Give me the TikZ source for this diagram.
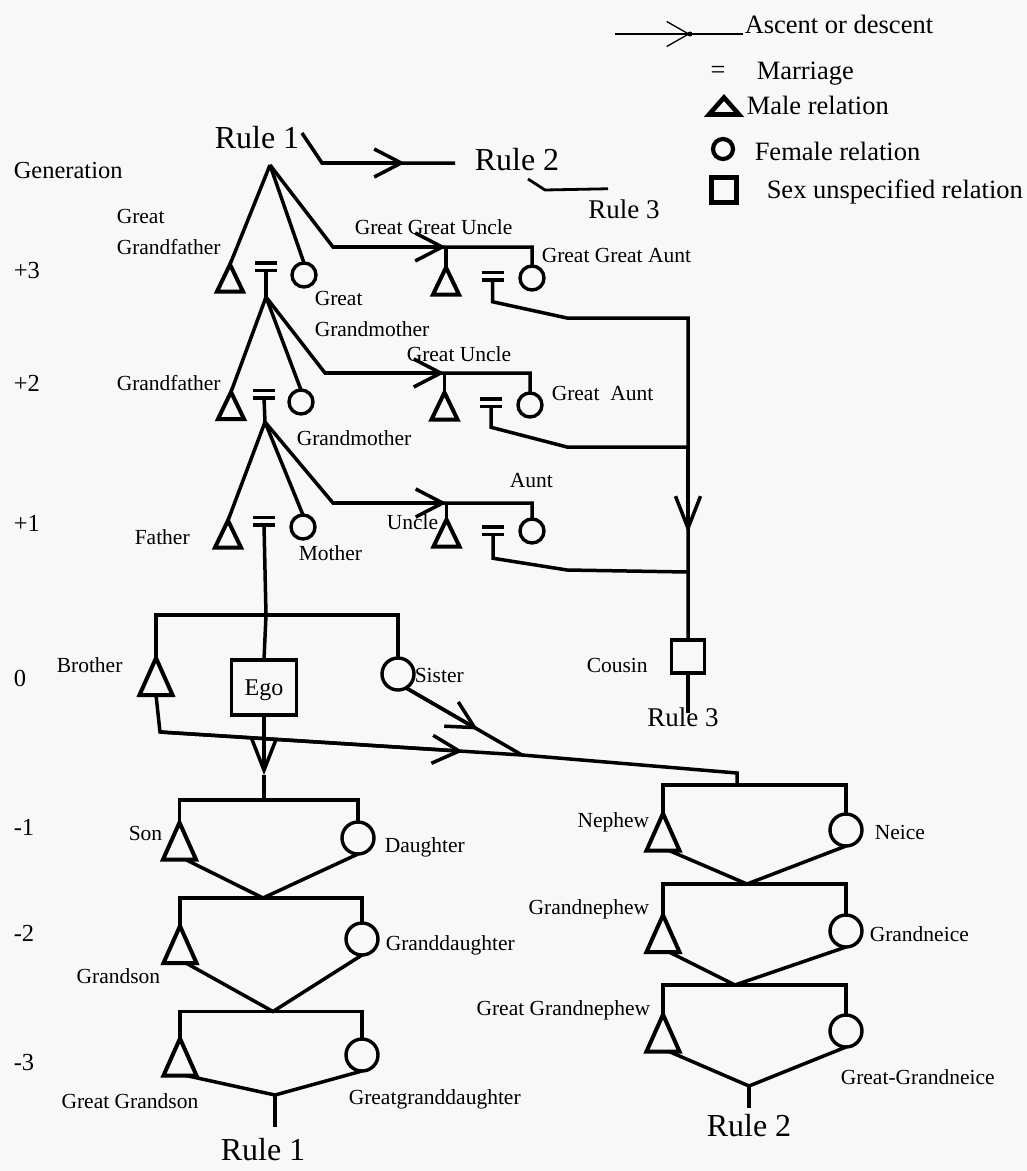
\documentclass[tikz,border=0pt]{standalone}
\usepackage{fontspec}
\setmainfont{Liberation Serif}
\usetikzlibrary{arrows.meta,calc}
\definecolor{paper}{RGB}{248,248,248}
\tikzset{
  kin/.style={line width=3.5pt, line join=miter},
  chev/.style={-{Straight Barb[length=27pt,width=28pt]}},
  vchev/.style={-{Straight Barb[length=32pt,width=25pt]}},
  male/.style={inner sep=0pt, outer sep=0pt, minimum width=26pt, minimum height=27pt},
  maleb/.style={inner sep=0pt, outer sep=0pt, minimum width=33pt, minimum height=37pt},
  fem/.style={circle, draw, line width=3.4pt, inner sep=0pt, outer sep=0pt, minimum size=24pt},
  femb/.style={circle, draw, line width=3.4pt, inner sep=0pt, outer sep=0pt, minimum size=32pt},
  marr/.style={inner sep=0pt, outer sep=0pt, minimum width=22pt, minimum height=7.5pt},
  unsex/.style={draw, line width=3.4pt, inner sep=0pt, outer sep=0pt, minimum size=33pt},
  trioutline/.style={line width=4pt, line join=miter},
  lbl/.style={inner sep=0pt, anchor=west, font=\fontsize{21.5pt}{31pt}\selectfont, text height=14.6pt, text depth=0.4pt},
  lbltwo/.style={inner sep=0pt, anchor=north west, align=left, font=\fontsize{21.5pt}{31pt}\selectfont},
  gen/.style={inner sep=0pt, anchor=west, font=\fontsize{24.5pt}{29pt}\selectfont, text height=16.7pt, text depth=0.5pt},
  leg/.style={inner sep=0pt, anchor=west, font=\fontsize{26.5pt}{32pt}\selectfont, text height=18pt, text depth=0.5pt},
  rulebig/.style={inner sep=0pt, font=\fontsize{32pt}{38pt}\selectfont, text height=21.8pt, text depth=0.6pt},
  rulesm/.style={inner sep=0pt, font=\fontsize{27pt}{32pt}\selectfont, text height=18.4pt, text depth=0.6pt},
  egobox/.style={draw, line width=3.4pt, inner sep=0pt, outer sep=0pt, minimum width=65pt, minimum height=55pt,
                 font=\fontsize{24pt}{28pt}\selectfont, text height=16.3pt, text depth=0.5pt},
}
\begin{document}
\begin{tikzpicture}[x=1pt, y=-1pt, kin]
\fill[paper] (0,0) rectangle (1027,1171);
\useasboundingbox (0,0) rectangle (1027,1171);

% ---------------- legend ----------------
\coordinate (L0) at (615,34);
\coordinate (LT) at (690,34);
\node[leg] (lgA) at (743,25) {Ascent or descent};
\draw[line width=1.3pt] (L0) -- (L0 -| lgA.west);
\draw[line width=1.3pt, -{Straight Barb[length=22pt,width=25pt]}] (L0) -- (LT);
\fill (LT) circle (2.5pt);
\node[leg, anchor=center] (lgEq) at (718,70) {=};
\node[leg] (lgM) at (755,71) {Marriage};
\node[inner sep=0pt, outer sep=0pt, minimum width=30pt, minimum height=17pt] (lgTri) at (724,106) {};
\draw[line width=4.6pt, line join=miter] (lgTri.south west) -- (lgTri.north) -- (lgTri.south east) -- cycle;
\node[leg] (lgMale) at (745,106) {Male relation};
\node[circle, draw, line width=4.2pt, inner sep=0pt, minimum size=20pt] (lgCirc) at (723,149) {};
\node[leg] (lgFem) at (753,152) {Female relation};
\node[draw, line width=4.2pt, inner sep=0pt, minimum size=25pt] (lgSq) at (724,190) {};
\node[leg] (lgSex) at (765,190) {Sex unspecified relation};

% ---------------- generation column ----------------
\node[gen] (genT) at (12,170) {Generation};
\node[gen] (g3) at (12,270) {+3};
\node[gen] (g2) at (12,383) {+2};
\node[gen] (g1) at (12,523) {+1};
\node[gen] (g0) at (12,678) {0};
\node[gen] (gm1) at (12,827) {-1};
\node[gen] (gm2) at (12,933) {-2};
\node[gen] (gm3) at (12,1062) {-3};

% ---------------- rules at the top ----------------
\node[rulebig] (r1t) at (257,138) {Rule 1};
\node[rulebig] (r2t) at (517,160) {Rule 2};
\node[rulesm]  (r3t) at (624,210) {Rule 3};
\coordinate (Q1) at (322,163);
\coordinate (TQ) at (405,163);
\coordinate (Q2) at ($(r2t.west)+(-18,3)$);
\draw ($(r1t.east)+(1,-5)$) -- (Q1) -- (Q2);
\draw[chev] (Q1) -- (TQ);
\coordinate (Q3) at (545,190);
\draw[line width=2.8pt] ($(r2t.south)+(11,6)$) -- (Q3) -- ($(r3t.north)+(-16,-10)$);

% ---------------- generation +3 ----------------
\node[male] (ggf) at (230,278) {};
\node[marr] (m3)  at (266,266.5) {};
\node[fem]  (ggm) at (304,275) {};
\node[male] (ggu) at (446,281) {};
\node[marr] (mu3) at (492.5,276) {};
\node[fem]  (gga) at (532,278) {};
\coordinate (A3) at (270,165);
\coordinate (K3) at (333,247);
\draw (A3) -- (ggf.north);
\draw (A3) -- (ggm.north);
\draw (A3) -- (K3) -- (K3 -| gga.north) -- (gga.north);
\draw[chev] (K3) -- (K3 -| ggu.north);
\draw (K3 -| ggu.north) -- (ggu.north);
\node[lbltwo] (ggfL) at (115,207.5) {Great\\Grandfather};
\node[lbltwo] (ggmL) at (313,289.5) {Great\\Grandmother};
\node[lbl] (gguL) at (353,227) {Great Great Uncle};
\node[lbl] (ggaL) at (540,255) {Great Great Aunt};

% ---------------- generation +2 ----------------
\node[male] (gf)  at (231,405.5) {};
\node[marr] (m2)  at (264,394) {};
\node[fem]  (gm)  at (301,402) {};
\node[male] (gu)  at (444.5,406) {};
\node[marr] (mu2) at (491,402.5) {};
\node[fem]  (ga)  at (530,405) {};
\coordinate (A2) at (266,297);
\coordinate (K2) at (325,373);
\draw (m3.south) -- (A2);
\draw (A2) -- (gf.north);
\draw (A2) -- (gm.north);
\draw (A2) -- (K2) -- (K2 -| ga.north) -- (ga.north);
\draw[chev] (K2) -- (K2 -| gu.north);
\draw (K2 -| gu.north) -- (gu.north);
\node[lbl] (gfL) at (115,383) {Grandfather};
\node[lbl] (gmL) at (295,438) {Grandmother};
\node[lbl] (guL) at (405,354) {Great Uncle};
\node[lbl] (gaL) at (550,393) {Great\ \ Aunt};

% ---------------- generation +1 ----------------
\node[male] (fa)  at (228,534) {};
\node[marr] (m1)  at (264,521) {};
\node[fem]  (mo)  at (303,527) {};
\node[male] (un)  at (446.5,533) {};
\node[marr] (mu1) at (493,530.5) {};
\node[fem]  (au)  at (532,531) {};
\coordinate (A1) at (265,422);
\coordinate (K1) at (333,503);
\draw (m2.south) -- (A1);
\draw (A1) -- (fa.north);
\draw (A1) -- (mo.north);
\draw (A1) -- (K1) -- (K1 -| au.north) -- (au.north);
\draw[chev] (K1) -- (K1 -| un.north);
\draw (K1 -| un.north) -- (un.north);
\node[lbl] (faL) at (133,537) {Father};
\node[lbl] (moL) at (297,553) {Mother};
\node[lbl] (unL) at (385,522) {Uncle};
\node[lbl] (auL) at (508,480) {Aunt};

% ---------------- cousin line ----------------
\node[unsex] (cou) at (688,656.5) {};
\node[lbl] (couL) at (585,665) {Cousin};
\node[rulesm] (r3c) at (683,718) {Rule 3};
\coordinate (G3) at (688,318);
\coordinate (G2) at (688,447);
\coordinate (G1) at (688,572);
\coordinate (TC) at (688,533);
\coordinate (E3) at (688,713);
\draw (mu3.south) -- ++(0,22) -- (567,318) -- (G3) -- (cou.north);
\draw (mu2.south) -- ++(0,21) -- (567,447) -- (G2);
\draw (mu1.south) -- ++(0,24) -- (567,570) -- (G1);
\draw[vchev] (G2) -- (TC);
\draw (cou.south) -- (E3);

% ---------------- generation 0 ----------------
\coordinate (S0) at (266,615);
\node[maleb]  (bro) at (156,676.5) {};
\node[egobox] (ego) at (264,687.5) {Ego};
\node[femb]   (sis) at (398,674) {};
\draw (m1.south) -- (S0);
\draw (bro.north) -- (bro.north |- S0) -- (sis.north |- S0) -- (sis.north);
\draw (S0) -- (ego.north);
\node[lbl] (broL) at (55,665) {Brother};
\node[lbl] (sisL) at (413,675) {Sister};

% brother and sister lines down to the nephews
\coordinate (B1) at (160,732);
\coordinate (J)  at (522,755);
\coordinate (N0) at (737,773);
\coordinate (N1) at (737,785);
\coordinate (TB) at ($(B1)!0.837!(J)$);
\coordinate (TS) at ($(sis.-60)!0.62!(J)$);
\draw (bro.south) -- (B1) -- (J) -- (N0) -- (N1);
\draw (sis.-60) -- (J);
\draw[chev] (B1) -- (TB);
\draw[chev] (sis.-60) -- (TS);

% ---------------- ego's descendants ----------------
\coordinate (TE) at (264,775);
\coordinate (D1) at (264,800);
\draw[vchev] (ego.south) -- (TE);
\draw (TE) -- (D1);
\node[maleb] (son)   at (179.5,841) {};
\node[femb]  (dau)   at (358,838) {};
\node[maleb] (gson)  at (180,944.5) {};
\node[femb]  (gdau)  at (362,939) {};
\node[maleb] (ggson) at (180,1057) {};
\node[femb]  (ggd)   at (362,1055) {};
\coordinate (M1) at (263,898);
\coordinate (M2) at (273,1011.5);
\coordinate (M3) at (275,1095);
\coordinate (E1) at (275,1127);
\draw (son.north) -- (son.north |- D1) -- (dau.north |- D1) -- (dau.north);
\draw ($(son.south)+(6,0)$) -- (M1) -- (dau.south);
\draw (gson.north) -- (gson.north |- M1) -- (gdau.north |- M1) -- (gdau.north);
\draw ($(gson.south)+(6,0)$) -- (M2) -- (gdau.south);
\draw (ggson.north) -- (ggson.north |- M2) -- (ggd.north |- M2) -- (ggd.north);
\draw ($(ggson.south)+(6,0)$) -- (M3) -- (ggd.south);
\draw (M3) -- (E1);
\node[rulebig] (r1b) at (263,1150) {Rule 1};
\node[lbl] (sonL) at (127,833) {Son};
\node[lbl] (dauL) at (383,845) {Daughter};
\node[lbl, anchor=east] (gsonL) at (162,976) {Grandson};
\node[lbl] (gdauL) at (384,943) {Granddaughter};
\node[lbl, anchor=east] (ggsonL) at (200,1101) {Great Grandson};
\node[lbl] (ggdL) at (347,1097) {Greatgranddaughter};

% ---------------- siblings' descendants ----------------
\node[maleb] (neph)   at (663,832) {};
\node[femb]  (nei)    at (846,830) {};
\node[maleb] (gneph)  at (663,933.5) {};
\node[femb]  (gnei)   at (846,931) {};
\node[maleb] (ggneph) at (663,1033) {};
\node[femb]  (ggnei)  at (846,1031) {};
\coordinate (M4) at (747,884);
\coordinate (M5) at (735,985);
\coordinate (M6) at (749,1086);
\coordinate (E2) at (749,1108);
\draw (neph.north) -- (neph.north |- N1) -- (nei.north |- N1) -- (nei.north);
\draw ($(neph.south)+(6,0)$) -- (M4) -- (nei.south);
\draw (gneph.north) -- (gneph.north |- M4) -- (gnei.north |- M4) -- (gnei.north);
\draw ($(gneph.south)+(6,0)$) -- (M5) -- (gnei.south);
\draw (ggneph.north) -- (ggneph.north |- M5) -- (ggnei.north |- M5) -- (ggnei.north);
\draw ($(ggneph.south)+(6,0)$) -- (M6) -- (ggnei.south);
\draw (M6) -- (E2);
\node[rulebig] (r2b) at (749,1126) {Rule 2};
\node[lbl, anchor=east] (nephL) at (651,820.5) {Nephew};
\node[lbl] (neiL) at (873,832.5) {Neice};
\node[lbl, anchor=east] (gnephL) at (651,907) {Grandnephew};
\node[lbl] (gneiL) at (868,934) {Grandneice};
\node[lbl, anchor=east] (ggnephL) at (652,1008.5) {Great Grandnephew};
\node[lbl] (ggneiL) at (839,1077.5) {Great-Grandneice};

% ---------------- triangles and marriage bars ----------------
\foreach \n in {ggf,ggu,gf,gu,fa,un,bro,son,gson,ggson,neph,gneph,ggneph}
  \draw[trioutline] (\n.south west) -- (\n.north) -- (\n.south east) -- cycle;
\foreach \n in {m3,mu3,m2,mu2,m1,mu1}
  \draw (\n.north west) -- (\n.north east) (\n.south west) -- (\n.south east);
\end{tikzpicture}
\end{document}
